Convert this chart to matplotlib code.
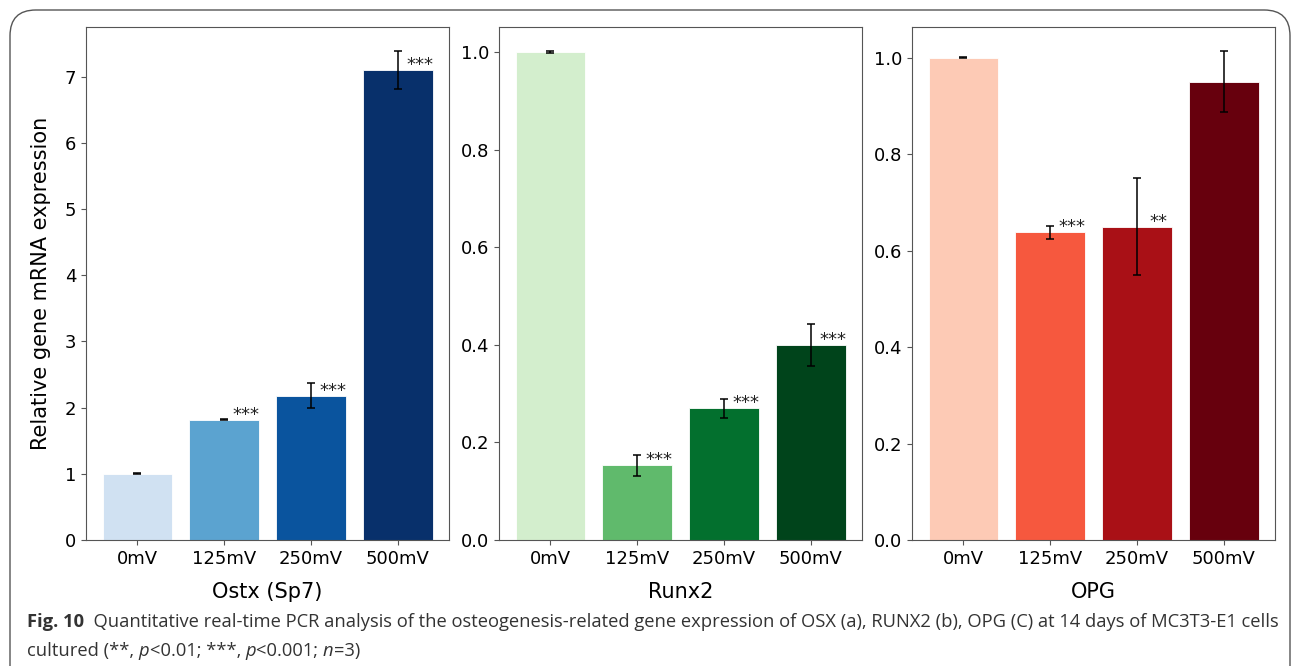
import matplotlib.pyplot as plt
from matplotlib.patches import FancyBboxPatch

# qPCR data at 14 days, relative to 0mV
doses = ["0mV", "125mV", "250mV", "500mV"]

ostx_mean = [1.0, 1.82, 2.18, 7.10]
ostx_err = [0.005, 0.012, 0.19, 0.28]
ostx_sig = ["", "***", "***", "***"]

runx2_mean = [1.0, 0.153, 0.27, 0.40]
runx2_err = [0.002, 0.022, 0.02, 0.044]
runx2_sig = ["", "***", "***", "***"]

opg_mean = [1.0, 0.638, 0.65, 0.95]
opg_err = [0.001, 0.013, 0.10, 0.063]
opg_sig = ["", "***", "**", ""]

genes = ["Ostx (Sp7)", "Runx2", "OPG"]
cmaps = ["Blues", "Greens", "Reds"]

fig = plt.figure(figsize=(12.93, 6.66), dpi=100)

# rounded frame around the whole figure
frame = FancyBboxPatch((10 / 1293, -0.05), 1280 / 1293, 1.05 - 10 / 666,
                       boxstyle="round,pad=0,rounding_size=0.02",
                       transform=fig.transFigure, fill=False,
                       edgecolor="#555555", linewidth=1.0, mutation_aspect=1293 / 666)
fig.patches.append(frame)

lefts = [86, 499, 912]
panels = [(ostx_mean, ostx_err, ostx_sig),
          (runx2_mean, runx2_err, runx2_sig),
          (opg_mean, opg_err, opg_sig)]

for i, (mean, err, sig) in enumerate(panels):
    ax = fig.add_axes([lefts[i] / 1293, 126 / 666, 363 / 1293, 513 / 666])
    colors = plt.get_cmap(cmaps[i])([0.2, 0.55, 0.86, 1.0])
    x = range(len(doses))
    ax.bar(x, mean, width=0.8, color=colors, edgecolor="white", linewidth=0.6,
           yerr=err, capsize=3, error_kw=dict(ecolor="black", elinewidth=1.1, capthick=1.1))
    for j in x:
        if sig[j]:
            ax.text(j + 0.25, mean[j], sig[j], ha="center", va="baseline",
                    fontsize=13, color="#222222")
    ax.set_xticks(list(x))
    ax.set_xticklabels(doses)
    ax.tick_params(labelsize=13, color="#555555")
    for s in ax.spines.values():
        s.set_color("#555555")
    ax.set_xlabel(genes[i], fontsize=15, labelpad=10)
    if i == 0:
        ax.set_ylabel("Relative gene mRNA expression", fontsize=15, labelpad=10)

# caption, written as runs of differently styled text
cap_font = ["Open Sans", "DejaVu Sans"]
renderer = fig.canvas.get_renderer()


def write_runs(x0, y, runs, size):
    xp = x0
    for s, kw in runs:
        t = fig.text(xp / 1293, y, s, fontsize=size, family=cap_font,
                     color="#333333", va="baseline", **kw)
        xp += t.get_window_extent(renderer).width
    return xp


line1 = [
    ("Fig. 10", dict(weight="bold")),
    ("  Quantitative real-time PCR analysis of the osteogenesis-related gene expression of "
     "OSX (a), RUNX2 (b), OPG (C) at 14 days of MC3T3-E1 cells", {}),
]
line2 = [
    ("cultured (**, ", {}),
    ("p", dict(style="italic")),
    ("<0.01; ***, ", {}),
    ("p", dict(style="italic")),
    ("<0.001; ", {}),
    ("n", dict(style="italic")),
    ("=3)", {}),
]

# measure the first line once, then size the caption to span the frame
probe = fig.text(0, 0, "".join(s for s, _ in line1), fontsize=13, family=cap_font)
w = probe.get_window_extent(renderer).width
probe.remove()
cap_size = 13 * 1246 / w

write_runs(27, 1 - 627 / 666, line1, cap_size)
write_runs(27, 1 - 656 / 666, line2, cap_size)

fig.savefig("out.png", dpi=100)
